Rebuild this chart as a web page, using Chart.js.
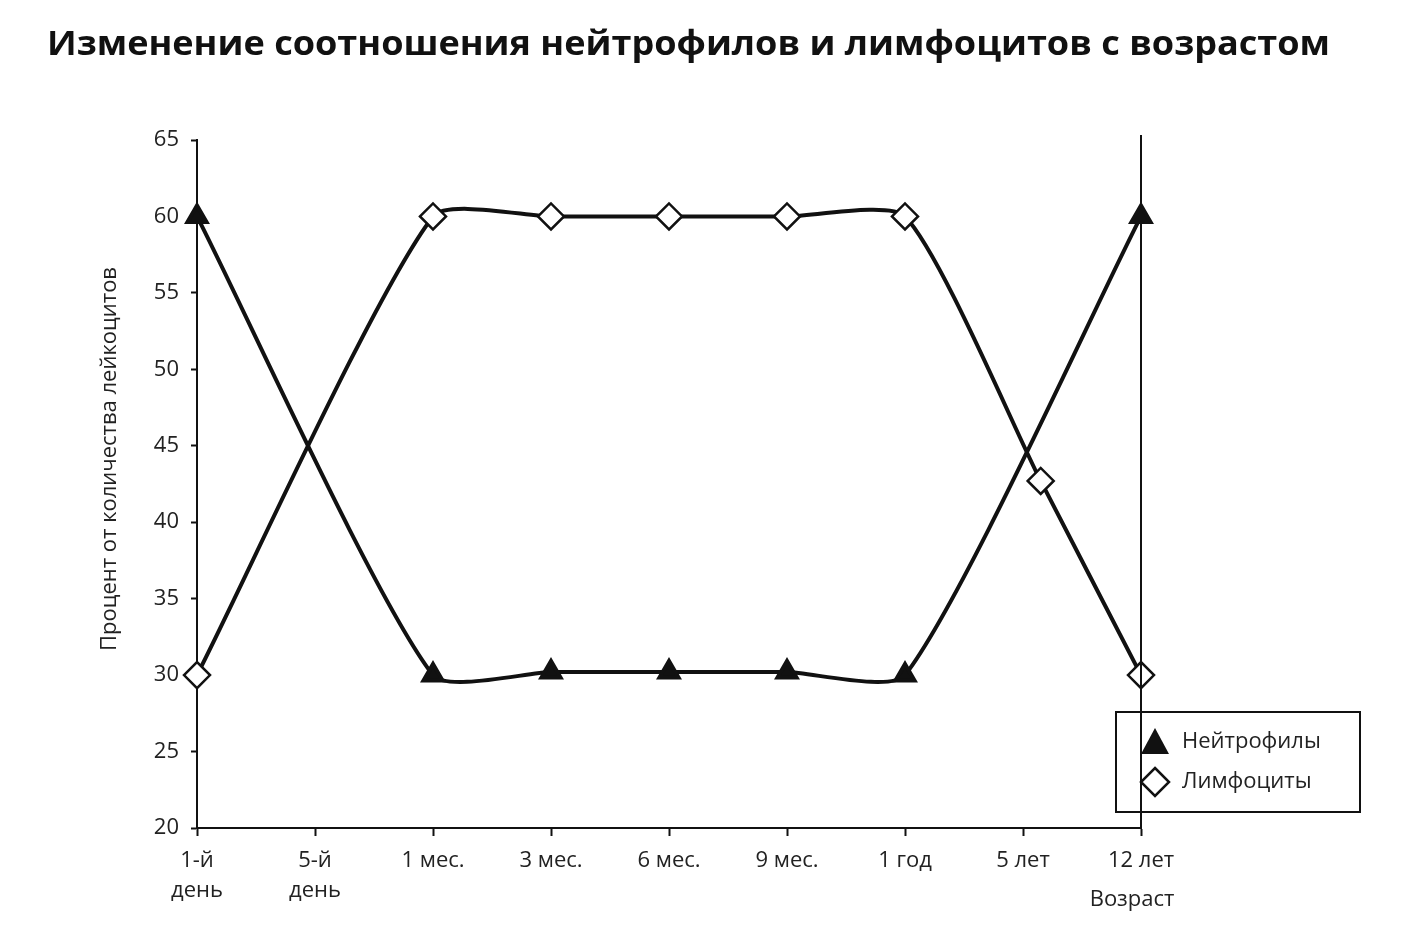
<!DOCTYPE html>
<html><head><meta charset="utf-8">
<script src="https://cdn.jsdelivr.net/npm/chart.js@4"></script>
<style>html,body{margin:0;padding:0;background:#fff}#w{width:1403px;height:938px}</style>
</head><body><div id="w"><canvas id="c" width="1403" height="938"></canvas></div>
<script>
const titleText = 'Изменение соотношения нейтрофилов и лимфоцитов с возрастом';
const categories = [['1-й','день'],['5-й','день'],'1 мес.','3 мес.','6 мес.','9 мес.','1 год','5 лет','12 лет'];
const neutroX = [0, 2, 3, 4, 5, 6, 8];
const neutroY = [60, 30, 30.2, 30.2, 30.2, 30, 60];
const lymphX = [0, 2, 3, 4, 5, 6, 7.15, 8];
const lymphY = [30, 60, 60, 60, 60, 60, 42.7, 30];
const yTitle = 'Процент от количества лейкоцитов';
const xTitle = 'Возраст';
const seriesNames = ['Нейтрофилы', 'Лимфоциты'];
const FONT = '"Open Sans", "DejaVu Sans", sans-serif';

const extras = {
  id: 'extras',
  afterDraw(ch) {
    const c = ch.ctx, a = ch.chartArea;
    c.save();
    c.fillStyle = '#111';
    c.font = 'bold 34px ' + FONT;
    c.textBaseline = 'middle';
    const w = c.measureText(titleText).width;
    c.save(); c.translate(47, 45); c.scale(1283 / w, 1); c.fillText(titleText, 0, 0); c.restore();
    c.strokeStyle = '#111'; c.lineWidth = 2;
    c.beginPath(); c.moveTo(a.right, a.top - 5); c.lineTo(a.right, a.bottom); c.stroke();
    c.font = '22px ' + FONT; c.fillStyle = '#222'; c.textAlign = 'center';
    c.fillText(xTitle, 1132, 900);
    c.save(); c.translate(110, (a.top + a.bottom) / 2 - 25); c.rotate(-Math.PI / 2);
    c.fillText(yTitle, 0, 0); c.restore();
    // legend
    c.lineWidth = 2; c.strokeStyle = '#111';
    c.strokeRect(1116, 712, 244, 100);
    c.textAlign = 'left';
    c.fillStyle = '#111';
    c.beginPath(); c.moveTo(1155, 728); c.lineTo(1169, 754); c.lineTo(1141, 754); c.closePath(); c.fill();
    c.fillStyle = '#222'; c.fillText(seriesNames[0], 1182, 742);
    c.fillStyle = '#fff'; c.lineWidth = 2.5;
    c.beginPath(); c.moveTo(1155, 768); c.lineTo(1169, 782); c.lineTo(1155, 796); c.lineTo(1141, 782); c.closePath(); c.fill(); c.stroke();
    c.fillStyle = '#222'; c.fillText(seriesNames[1], 1182, 782);
    c.restore();
  }
};

new Chart(document.getElementById('c'), {
  type: 'line',
  data: {
    datasets: [
      { label: seriesNames[0], data: neutroX.map((x,i)=>({x, y: neutroY[i]})),
        borderColor: '#111', borderWidth: 4, tension: 0.2, clip: false,
        pointStyle: 'triangle', pointRadius: 11, pointBackgroundColor: '#111', pointBorderColor: '#111' },
      { label: seriesNames[1], data: lymphX.map((x,i)=>({x, y: lymphY[i]})),
        borderColor: '#111', borderWidth: 4, tension: 0.2, clip: false,
        pointStyle: 'rectRot', pointRadius: 13, pointBackgroundColor: '#fff', pointBorderColor: '#111', pointBorderWidth: 2.5 }
    ]
  },
  options: {
    responsive: false, animation: false, devicePixelRatio: 1,
    layout: { padding: { top: 140, right: 262, left: 0, bottom: 0 } },
    plugins: { legend: { display: false }, tooltip: { enabled: false } },
    scales: {
      x: { type: 'linear', min: 0, max: 8,
        afterFit(s) { s.height = 110; },
        grid: { drawOnChartArea: false, tickLength: 8, color: '#111', tickWidth: 2 },
        border: { color: '#111', width: 2 },
        ticks: { stepSize: 1, padding: 10, color: '#222', font: { family: FONT, size: 22, lineHeight: 1.35 }, maxRotation: 0,
          callback: v => categories[v] } },
      y: { min: 20, max: 65,
        afterFit(s) { s.width = 197; },
        grid: { drawOnChartArea: false, tickLength: 6, color: '#111', tickWidth: 2 },
        border: { color: '#111', width: 2 },
        ticks: { stepSize: 5, padding: 12, color: '#222', font: { family: FONT, size: 22 } } }
    }
  },
  plugins: [extras]
});
</script></body></html>
